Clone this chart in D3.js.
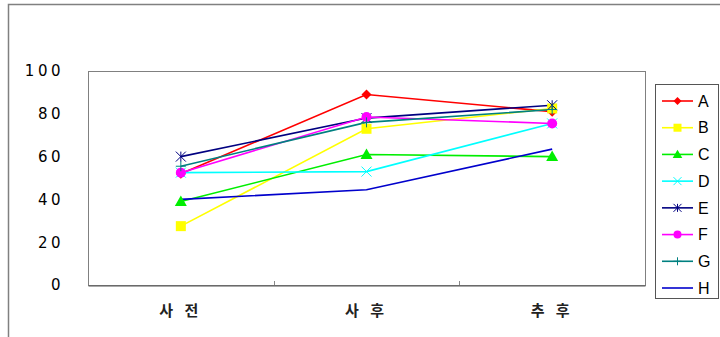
<!DOCTYPE html>
<html>
<head>
<meta charset="utf-8">
<script src="https://cdn.jsdelivr.net/npm/d3@7"></script>
<style>
  html, body { margin: 0; padding: 0; background: #fff; }
  svg { display: block; }
</style>
</head>
<body>
<svg id="chart" width="720" height="337"></svg>
<script>
const categories = ["사 전", "사 후", "추 후"];
const seriesNames = ["A", "B", "C", "D", "E", "F", "G", "H"];
const valuesA = [52, 89, 81];
const valuesB = [27.5, 73, 82.5];
const valuesC = [39, 61, 60];
const valuesD = [52.5, 53, 75.5];
const valuesE = [60, 78, 84];
const valuesF = [52.5, 78.5, 75.5];
const valuesG = [55.5, 76, 82];
const valuesH = [40, 44.5, 63.5];
const yTicks = [0, 20, 40, 60, 80, 100];

const colors = ["#ff0000", "#ffff00", "#00ee00", "#00ffff", "#000080", "#ff00ff", "#008080", "#0000cc"];
const markers = ["diamond", "square", "triangle", "x", "asterisk", "circle", "plus", "none"];
const allValues = [valuesA, valuesB, valuesC, valuesD, valuesE, valuesF, valuesG, valuesH];

const series = seriesNames.map((name, i) => ({
  name, values: allValues[i], color: colors[i], marker: markers[i]
}));

const svg = d3.select("#chart");

// outer frame
svg.append("path")
  .attr("d", "M8.5,337 L8.5,4.5 L720,4.5")
  .attr("fill", "none").attr("stroke", "#808080").attr("stroke-width", 1.5);

const plot = { left: 88, right: 645, top: 71, bottom: 285 };

const x = d3.scaleBand().domain(categories).range([plot.left, plot.right]);
const y = d3.scaleLinear().domain([0, 100]).range([plot.bottom, plot.top]);

// plot area border
svg.append("rect")
  .attr("x", plot.left + 0.5).attr("y", plot.top + 0.5)
  .attr("width", plot.right - plot.left).attr("height", plot.bottom - plot.top)
  .attr("fill", "none").attr("stroke", "#808080").attr("stroke-width", 1);

// y axis labels
const yAxis = d3.axisLeft(y).tickValues(yTicks).tickSize(0).tickPadding(24)
  .tickFormat(d => String(d));
const gy = svg.append("g").attr("transform", `translate(${plot.left},0)`).call(yAxis);
gy.select(".domain").remove();
gy.selectAll("text")
  .attr("font-family", "'DejaVu Sans', sans-serif")
  .attr("font-size", 15).attr("fill", "#000")
  .attr("letter-spacing", "3.5px");

// x axis
const xAxis = d3.axisBottom(x).tickSize(0).tickPadding(20);
const gx = svg.append("g").attr("transform", `translate(0,${plot.bottom + 0.5})`).call(xAxis);
gx.select(".domain").attr("stroke", "#555").attr("stroke-width", 1.2);
gx.selectAll("text")
  .attr("font-family", "'Noto Sans CJK KR', sans-serif")
  .attr("font-size", 15).attr("font-weight", "bold").attr("fill", "#222")
  .attr("letter-spacing", "4px");
// tick marks between categories
svg.append("g").selectAll("line")
  .data(categories.slice(1))
  .join("line")
  .attr("x1", d => Math.round(x(d)) + 0.5).attr("x2", d => Math.round(x(d)) + 0.5)
  .attr("y1", plot.bottom - 4).attr("y2", plot.bottom)
  .attr("stroke", "#888");

const cx = c => x(c) + x.bandwidth() / 2;

function drawMarker(g, type, color, size) {
  const s = size, h = s / 2;
  switch (type) {
    case "diamond":
      g.append("path").attr("d", `M0,${-h} L${h},0 L0,${h} L${-h},0Z`)
        .attr("fill", color); break;
    case "square":
      g.append("rect").attr("x", -h).attr("y", -h).attr("width", s).attr("height", s)
        .attr("fill", color); break;
    case "triangle":
      g.append("path").attr("d", `M0,${-s * 0.6} L${s * 0.6},${s * 0.45} L${-s * 0.6},${s * 0.45}Z`)
        .attr("fill", color); break;
    case "circle":
      g.append("circle").attr("r", h).attr("fill", color); break;
    case "x":
      g.append("path").attr("d", `M${-h},${-h} L${h},${h} M${-h},${h} L${h},${-h}`)
        .attr("stroke", color).attr("stroke-width", 1); break;
    case "asterisk":
      g.append("path").attr("d", `M${-h},${-h} L${h},${h} M${-h},${h} L${h},${-h} M0,${-h} L0,${h}`)
        .attr("stroke", color).attr("stroke-width", 1); break;
    case "plus":
      g.append("path").attr("d", `M${-h},0 L${h},0 M0,${-h} L0,${h}`)
        .attr("stroke", color).attr("stroke-width", 1); break;
  }
}

const line = d3.line().x((d, i) => cx(categories[i])).y(d => y(d));

const gLines = svg.append("g");
series.forEach(s => {
  gLines.append("path").datum(s.values)
    .attr("d", line).attr("fill", "none")
    .attr("stroke", s.color).attr("stroke-width", 1.6);
});
series.forEach(s => {
  s.values.forEach((v, i) => {
    const g = gLines.append("g").attr("transform", `translate(${cx(categories[i])},${y(v)})`);
    drawMarker(g, s.marker, s.color, 10);
  });
});

// legend
const legend = { x: 655.5, y: 84.5, w: 63, h: 214 };
svg.append("rect")
  .attr("x", legend.x).attr("y", legend.y).attr("width", legend.w).attr("height", legend.h)
  .attr("fill", "#fff").attr("stroke", "#555").attr("stroke-width", 1);
const ly = d3.scalePoint().domain(seriesNames).range([101, 288]);
series.forEach(s => {
  const g = svg.append("g").attr("transform", `translate(0,${ly(s.name)})`);
  g.append("line").attr("x1", 662).attr("x2", 693).attr("y1", 0).attr("y2", 0)
    .attr("stroke", s.color).attr("stroke-width", 1.6);
  const m = g.append("g").attr("transform", "translate(677.5,0)");
  drawMarker(m, s.marker, s.color, 8);
  g.append("text").attr("x", 698).attr("y", 0).attr("dy", "0.36em")
    .attr("font-family", "'Liberation Sans', Arial, sans-serif")
    .attr("font-size", 16).attr("fill", "#000").text(s.name);
});
</script>
</body>
</html>
